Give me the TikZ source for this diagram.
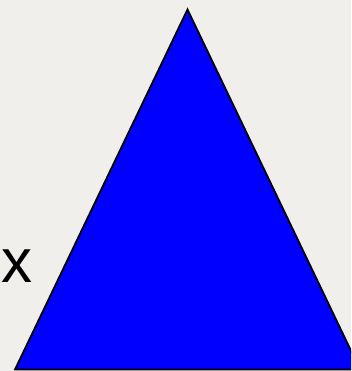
\documentclass[tikz,border=0pt]{standalone}
\usepackage{fontspec}
\setmainfont{Liberation Sans}
\definecolor{bgc}{RGB}{240,239,236}
\definecolor{triblue}{RGB}{0,0,255}
\tikzset{tri/.style={fill=triblue,draw=black,line width=1.8pt,line join=miter}}
\begin{document}
\begin{tikzpicture}[x=1pt,y=-1pt]
\useasboundingbox (0,0) rectangle (351,371);
\clip (0,0) rectangle (351,371);
\fill[bgc] (0,0) rectangle (351,371);
\coordinate (apex) at (187.5,9.5);
\coordinate (bl) at (15,369.5);
\coordinate (br) at (360,369.5);
\draw[tri] (apex) -- (bl) -- (br) -- cycle;
\node[anchor=base,inner sep=0,font=\fontsize{62}{62}\selectfont] (lab) at (17,282) {x};
\end{tikzpicture}
\end{document}
